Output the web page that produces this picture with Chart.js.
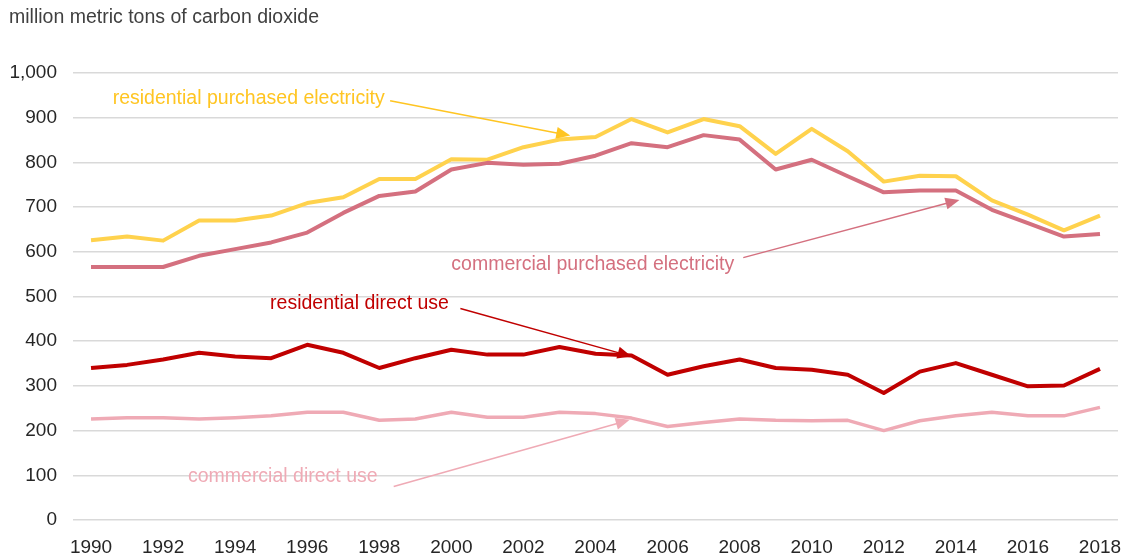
<!DOCTYPE html>
<html>
<head>
<meta charset="utf-8">
<script src="https://cdn.jsdelivr.net/npm/chart.js@4/dist/chart.umd.min.js"></script>
<style>
  html, body { margin: 0; padding: 0; background: #ffffff; }
  #wrap { width: 1129px; height: 560px; position: relative; }
</style>
</head>
<body>
<div id="wrap"><canvas id="c" width="1129" height="560"></canvas></div>
<script>
const years = [1990,1991,1992,1993,1994,1995,1996,1997,1998,1999,2000,2001,2002,2003,2004,2005,2006,2007,2008,2009,2010,2011,2012,2013,2014,2015,2016,2017,2018];
const residentialElectricity = [626,634,625,670,670,681,709,722,763,763,807,806,834,851,857,897,867,897,881,819,875,825,757,770,769,715,683,648,681];
const commercialElectricity = [566,566,566,591,606,621,643,687,725,735,784,799,795,797,815,843,834,861,851,784,806,769,733,737,737,694,664,634,640];
const residentialDirect = [340,347,359,374,366,362,392,374,340,362,381,370,370,387,372,368,325,344,359,340,336,325,284,332,351,325,299,301,338];
const commercialDirect = [226,229,229,226,229,233,241,241,223,226,241,230,230,241,238,228,209,218,226,223,222,223,200,222,233,241,233,233,252];
const yTicks = [0,100,200,300,400,500,600,700,800,900,1000];
const unitLabel = 'million metric tons of carbon dioxide';

const seriesNames = ['residential purchased electricity','commercial purchased electricity','residential direct use','commercial direct use'];
const seriesColors = ['#FFD24D','#D4707F','#C00000','#EFAAB5'];
const textColors = ['#FFC522','#D4707F','#C00000','#EFAAB5'];

// annotation anchors in data units (x = year, y = value)
const labelX = [1990.6, 2000.0, 1994.97, 1992.69];
const labelY = [942, 571, 485, 96];
const arrowFromX = [1998.3, 2008.1, 2000.25, 1998.4];
const arrowFromY = [938, 587, 473, 75];
const arrowToX = [2003.3, 2014.1, 2005.0, 2004.95];
const arrowToY = [860, 716, 366, 224];

const FONT = '"Liberation Sans", Arial, sans-serif';

const annotPlugin = {
  id: 'annot',
  afterDraw(chart) {
    const ctx = chart.ctx;
    const xs = chart.scales.x, ys = chart.scales.y;
    ctx.save();
    // unit title
    ctx.fillStyle = '#404040';
    ctx.font = '19.5px ' + FONT;
    ctx.textBaseline = 'middle';
    ctx.textAlign = 'left';
    ctx.fillText(unitLabel, 9, 18);
    for (let i = 0; i < seriesNames.length; i++) {
      const tx = xs.getPixelForValue(labelX[i] - years[0]);
      const ty = ys.getPixelForValue(labelY[i]);
      ctx.fillStyle = textColors[i];
      ctx.font = '19.5px ' + FONT;
      ctx.fillText(seriesNames[i], tx, ty);
      const x1 = xs.getPixelForValue(arrowFromX[i] - years[0]);
      const y1 = ys.getPixelForValue(arrowFromY[i]);
      const x2 = xs.getPixelForValue(arrowToX[i] - years[0]);
      const y2 = ys.getPixelForValue(arrowToY[i]);
      const ang = Math.atan2(y2 - y1, x2 - x1);
      const hl = 14, hw = 6;
      ctx.strokeStyle = textColors[i];
      ctx.lineWidth = 1.5;
      ctx.beginPath();
      ctx.moveTo(x1, y1);
      ctx.lineTo(x2 - Math.cos(ang) * hl * 0.8, y2 - Math.sin(ang) * hl * 0.8);
      ctx.stroke();
      ctx.fillStyle = textColors[i];
      ctx.beginPath();
      ctx.moveTo(x2, y2);
      ctx.lineTo(x2 - Math.cos(ang) * hl - Math.sin(ang) * hw, y2 - Math.sin(ang) * hl + Math.cos(ang) * hw);
      ctx.lineTo(x2 - Math.cos(ang) * hl + Math.sin(ang) * hw, y2 - Math.sin(ang) * hl - Math.cos(ang) * hw);
      ctx.closePath();
      ctx.fill();
    }
    ctx.restore();
  }
};

const dataArrays = [residentialElectricity, commercialElectricity, residentialDirect, commercialDirect];
const widths = [4, 4, 4, 3.5];

new Chart(document.getElementById('c'), {
  type: 'line',
  data: {
    labels: years.map(String),
    datasets: seriesNames.map((n, i) => ({
      label: n,
      data: dataArrays[i],
      borderColor: seriesColors[i],
      backgroundColor: seriesColors[i],
      borderWidth: widths[i],
      pointRadius: 0,
      tension: 0,
      fill: false,
      borderJoinStyle: 'round'
    })).reverse()
  },
  options: {
    responsive: false,
    animation: false,
    devicePixelRatio: 1,
    layout: { padding: { left: 0, right: 11, top: 73, bottom: 0 } },
    plugins: { legend: { display: false }, tooltip: { enabled: false }, title: { display: false } },
    scales: {
      x: {
        type: 'category',
        offset: true,
        grid: { display: false, drawTicks: false },
        border: { display: false },
        ticks: {
          autoSkip: false,
          maxRotation: 0,
          minRotation: 0,
          padding: 16,
          color: '#262626',
          font: { family: FONT, size: 19 },
          callback: (v, i) => (years[i] % 2 === 0 ? String(years[i]) : '')
        },
        afterFit(scale) { scale.height = 40; scale.paddingRight = 0; scale.paddingLeft = 0; }
      },
      y: {
        min: 0,
        max: 1000,
        afterBuildTicks(scale) { scale.ticks = yTicks.map(v => ({ value: v })); },
        grid: { color: '#D9D9D9', lineWidth: 1.5, drawTicks: false },
        border: { display: false },
        ticks: {
          padding: 16,
          color: '#262626',
          font: { family: FONT, size: 19 },
          callback: v => v.toLocaleString('en-US')
        },
        afterFit(scale) { scale.width = 73; scale.paddingTop = 0; scale.paddingBottom = 0; }
      }
    }
  },
  plugins: [annotPlugin]
});
</script>
</body>
</html>
